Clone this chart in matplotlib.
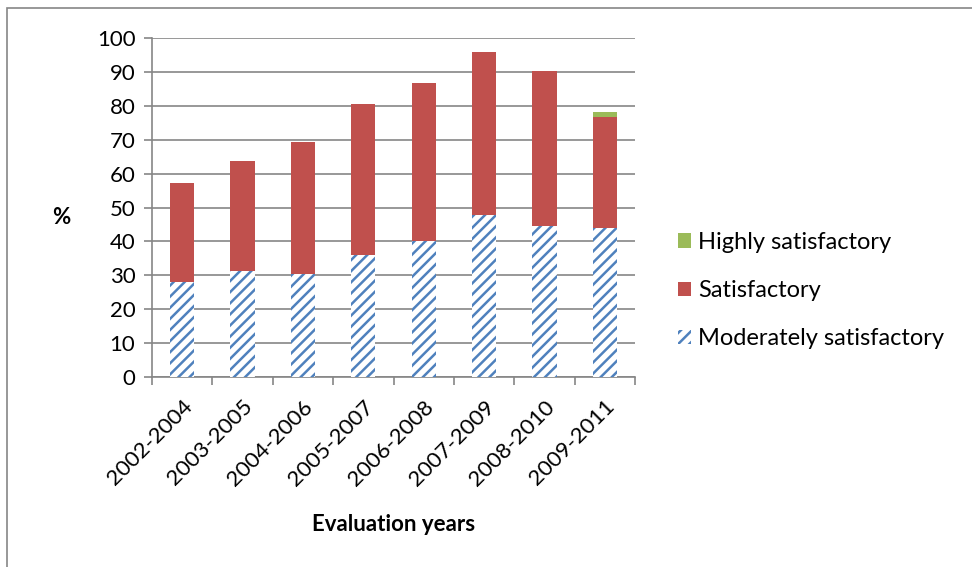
import numpy as np
import matplotlib
matplotlib.use("Agg")
import matplotlib.pyplot as plt
from matplotlib.patches import Rectangle

periods = ['2002-2004', '2003-2005', '2004-2006', '2005-2007',
           '2006-2008', '2007-2009', '2008-2010', '2009-2011']
moderately = [28.1, 31.4, 30.4, 36.0, 40.1, 47.8, 44.5, 44.1]
satisfactory = [29.0, 32.2, 38.9, 44.5, 46.6, 48.1, 45.8, 32.5]
highly = [0, 0, 0, 0, 0, 0, 0, 1.6]

plt.rcParams['font.family'] = ['Lato', 'DejaVu Sans']
plt.rcParams['hatch.linewidth'] = 1.8

fig = plt.figure(figsize=(9.72, 5.67), dpi=100)
ax = fig.add_axes([152/972, 1-377/567, 483/972, 339/567])

x = np.arange(len(periods))
w = 0.4
mod = np.array(moderately)
sat = np.array(satisfactory)

ax.bar(x, mod, w, color='white', edgecolor='#4F81BD', hatch='///', lw=0,
       label='Moderately satisfactory', zorder=3)
ax.bar(x, sat, w, bottom=mod, color='#C0504D', lw=0, label='Satisfactory', zorder=3)
ax.bar(x, highly, w, bottom=mod+sat, color='#9BBB59', lw=0,
       label='Highly satisfactory', zorder=3)

ax.set_xlim(-0.5, len(periods)-0.5)
ax.set_ylim(0, 100)
ax.set_yticks(range(0, 101, 10))
ax.yaxis.grid(True, color='#868686', lw=1.2, zorder=0)
for s in ['top', 'right']:
    ax.spines[s].set_visible(False)
for s in ['left', 'bottom']:
    ax.spines[s].set_color('#868686')
    ax.spines[s].set_linewidth(1.2)

ax.set_xticks(x)
ax.set_xticklabels(periods, rotation=45, ha='right', rotation_mode='anchor', fontsize=16)
ax.set_xticks(np.arange(-0.5, len(periods)), minor=True)
ax.tick_params(axis='x', which='major', length=0, pad=14)
ax.tick_params(axis='x', which='minor', length=6, color='#868686', width=1.2)
ax.tick_params(axis='y', length=6, color='#868686', width=1.2, labelsize=16, pad=6)

ax.set_xlabel('Evaluation years', fontsize=16, fontweight='bold', labelpad=18)
fig.text(61/972, 1-218/567, '%', fontsize=16, fontweight='bold', ha='center', va='center')

h, l = ax.get_legend_handles_labels()
ax.legend(h[::-1], l[::-1], loc='center left', bbox_to_anchor=(1.045, 0.255),
          frameon=False, fontsize=17, handlelength=0.55, handleheight=0.55,
          handletextpad=0.3, labelspacing=1.15)

fig.patches.append(Rectangle((7/972, -0.1), 1.2, 1.1 - 8/567, transform=fig.transFigure,
                             fill=False, edgecolor='#868686', lw=1.2))

fig.savefig('out.png', dpi=100)
